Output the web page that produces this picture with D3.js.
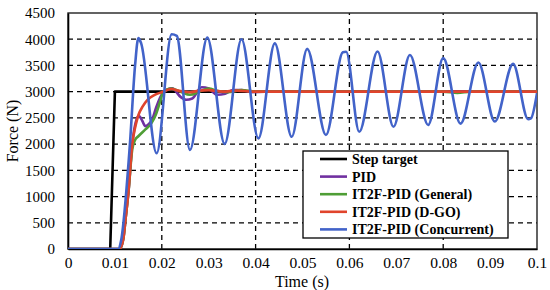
<!DOCTYPE html>
<html>
<head>
<meta charset="utf-8">
<script src="https://cdn.jsdelivr.net/npm/d3@7"></script>
<style>
  body { margin: 0; background: #fff; }
  svg text { font-family: "Liberation Serif", "DejaVu Serif", serif !important; }
</style>
</head>
<body>
<div id="chart"></div>
<script>
// tick values
var xTicks = [0, 0.01, 0.02, 0.03, 0.04, 0.05, 0.06, 0.07, 0.08, 0.09, 0.1];
var xTickLabels = ["0", "0.01", "0.02", "0.03", "0.04", "0.05", "0.06", "0.07", "0.08", "0.09", "0.1"];
var xGrid = [0.02, 0.04, 0.06, 0.08];
var yTicks = [0, 500, 1000, 1500, 2000, 2500, 3000, 3500, 4000, 4500];

// series [time (s), force (N)]
var stepTarget = [[0, 0], [0.009, 0], [0.010, 3000], [0.1, 3000]];

var pid = [[0, 0], [0.0110, 0], [0.0118, 200], [0.0123, 600], [0.0129, 1100], [0.0137, 2000],
  [0.0144, 2400], [0.0151, 2540], [0.0158, 2450], [0.0165, 2340], [0.0172, 2380], [0.0180, 2480],
  [0.0188, 2700], [0.0196, 2880], [0.0204, 3000], [0.0222, 3065], [0.0240, 2900], [0.0252, 2845],
  [0.0265, 2870], [0.0285, 3085], [0.0300, 3060], [0.0318, 2940], [0.0335, 2960], [0.0352, 3030],
  [0.0370, 3030], [0.0390, 2990], [0.0420, 3000], [0.1, 3000]];

var general = [[0, 0], [0.0110, 0], [0.0118, 200], [0.0123, 600], [0.0129, 1100], [0.0137, 1900],
  [0.0143, 2080], [0.0150, 2150], [0.0165, 2280], [0.0178, 2400], [0.0188, 2580], [0.0196, 2800],
  [0.0203, 2990], [0.0220, 3060], [0.0240, 3000], [0.0260, 2940], [0.0280, 3000], [0.0300, 3060],
  [0.0320, 3010], [0.0340, 2990], [0.0370, 3030], [0.0400, 3000], [0.0800, 3000], [0.0830, 2975],
  [0.0860, 3000], [0.1, 3000]];

var dgo = [[0, 0], [0.0110, 0], [0.0118, 200], [0.0123, 600], [0.0129, 1100], [0.0137, 2000],
  [0.0144, 2350], [0.0150, 2550], [0.0160, 2730], [0.0170, 2850], [0.0185, 2940], [0.0200, 2990],
  [0.0220, 3050], [0.0240, 3010], [0.0260, 2990], [0.0280, 3020], [0.0300, 3030], [0.0330, 3000],
  [0.0360, 3020], [0.0400, 3000], [0.1, 3000]];

var concurrent = [[0, 0], [0.0107, 0], [0.0113, 150], [0.0132, 2000], [0.0143, 3500], [0.0150, 4020],
  [0.0156, 3920], [0.0189, 1825], [0.0221, 4095], [0.0232, 4065], [0.0260, 1890], [0.0297, 4030],
  [0.0334, 2005], [0.0370, 4000], [0.0406, 2110], [0.0441, 3920], [0.0477, 2140], [0.0510, 3815],
  [0.0550, 2175], [0.0586, 3750], [0.0593, 3760], [0.0621, 2235], [0.0660, 3765], [0.0694, 2330],
  [0.0729, 3700], [0.0768, 2365], [0.0800, 3640], [0.0837, 2390], [0.0875, 3555], [0.0910, 2430],
  [0.0949, 3530], [0.0981, 2475], [0.0987, 2490], [0.1, 2970]];

var seriesNames = ["Step target", "PID", "IT2F-PID (General)", "IT2F-PID (D-GO)", "IT2F-PID (Concurrent)"];
var seriesColors = ["#000000", "#7030a0", "#4f9e36", "#e0442c", "#4263c9"];
var seriesData = [stepTarget, pid, general, dgo, concurrent];

var width = 550, height = 290;
var svg = d3.select("#chart").append("svg")
    .attr("width", width).attr("height", height);

var x = d3.scaleLinear().domain([0, 0.1]).range([68, 537]);
var y = d3.scaleLinear().domain([0, 4500]).range([249, 13]);

// grid lines
svg.append("g").selectAll("line")
    .data(yTicks.filter(function (d) { return d > 0 && d < 4500; }))
    .enter().append("line")
    .attr("x1", x(0)).attr("x2", x(0.1))
    .attr("y1", function (d) { return y(d); })
    .attr("y2", function (d) { return y(d); })
    .attr("stroke", "#000").attr("stroke-width", 1.3)
    .attr("stroke-dasharray", "5,4");

svg.append("g").selectAll("line")
    .data(xGrid)
    .enter().append("line")
    .attr("x1", function (d) { return x(d); })
    .attr("x2", function (d) { return x(d); })
    .attr("y1", y(0)).attr("y2", y(4500))
    .attr("stroke", "#000").attr("stroke-width", 1.3)
    .attr("stroke-dasharray", "5,4");

// frame
svg.append("rect")
    .attr("x", x(0)).attr("y", y(4500))
    .attr("width", x(0.1) - x(0)).attr("height", y(0) - y(4500))
    .attr("fill", "none").attr("stroke", "#222").attr("stroke-width", 1.4);

// axes
var xAxis = d3.axisBottom(x).tickValues(xTicks).tickSize(0).tickPadding(8)
    .tickFormat(function (d, i) { return xTickLabels[i]; });
var gx = svg.append("g").attr("transform", "translate(0," + y(0) + ")").call(xAxis);
gx.attr("font-family", null);
gx.select(".domain").attr("stroke", "#000").attr("stroke-width", 1.6);
gx.selectAll("text").attr("font-size", 15.5).attr("fill", "#000");

var yAxis = d3.axisLeft(y).tickValues(yTicks).tickSize(0).tickPadding(13)
    .tickFormat(d3.format("d"));
var gy = svg.append("g").attr("transform", "translate(" + x(0) + ",0)").call(yAxis);
gy.attr("font-family", null);
gy.select(".domain").attr("stroke", "#000").attr("stroke-width", 1.6);
gy.selectAll("text").attr("font-size", 15).attr("fill", "#000");

// axis titles
svg.append("text")
    .attr("x", 302).attr("y", 287)
    .attr("text-anchor", "middle").attr("font-size", 16)
    .text("Time (s)");
svg.append("text")
    .attr("transform", "translate(18,131) rotate(-90)")
    .attr("text-anchor", "middle").attr("font-size", 16)
    .text("Force (N)");

// lines
svg.append("clipPath").attr("id", "plotclip")
    .append("rect").attr("x", x(0)).attr("y", y(4500) - 2)
    .attr("width", x(0.1) - x(0)).attr("height", y(0) - y(4500) + 2);

var line = d3.line()
    .x(function (d) { return x(d[0]); })
    .y(function (d) { return y(d[1]); });

var lines = svg.append("g").attr("clip-path", "url(#plotclip)");
seriesData.forEach(function (data, i) {
    lines.append("path")
        .datum(data)
        .attr("fill", "none")
        .attr("stroke", seriesColors[i])
        .attr("stroke-width", 2.6)
        .attr("stroke-linejoin", "round")
        .attr("d", i === 0 ? line.curve(d3.curveLinear)(data) : line.curve(d3.curveMonotoneX)(data));
});

// legend
var legend = svg.append("g");
legend.append("rect")
    .attr("x", 303).attr("y", 151)
    .attr("width", 205).attr("height", 87)
    .attr("fill", "#fff").attr("stroke", "#000").attr("stroke-width", 1.3);

var rows = legend.selectAll("g.row")
    .data(seriesNames)
    .enter().append("g")
    .attr("class", "row")
    .attr("transform", function (d, i) { return "translate(0," + (159 + i * 17.6) + ")"; });
rows.append("line")
    .attr("x1", 320).attr("x2", 347)
    .attr("stroke", function (d, i) { return seriesColors[i]; })
    .attr("stroke-width", 2.6);
rows.append("text")
    .attr("x", 352).attr("dy", "0.35em")
    .attr("font-size", 14).attr("font-weight", "bold")
    .text(function (d) { return d; });
</script>
</body>
</html>
